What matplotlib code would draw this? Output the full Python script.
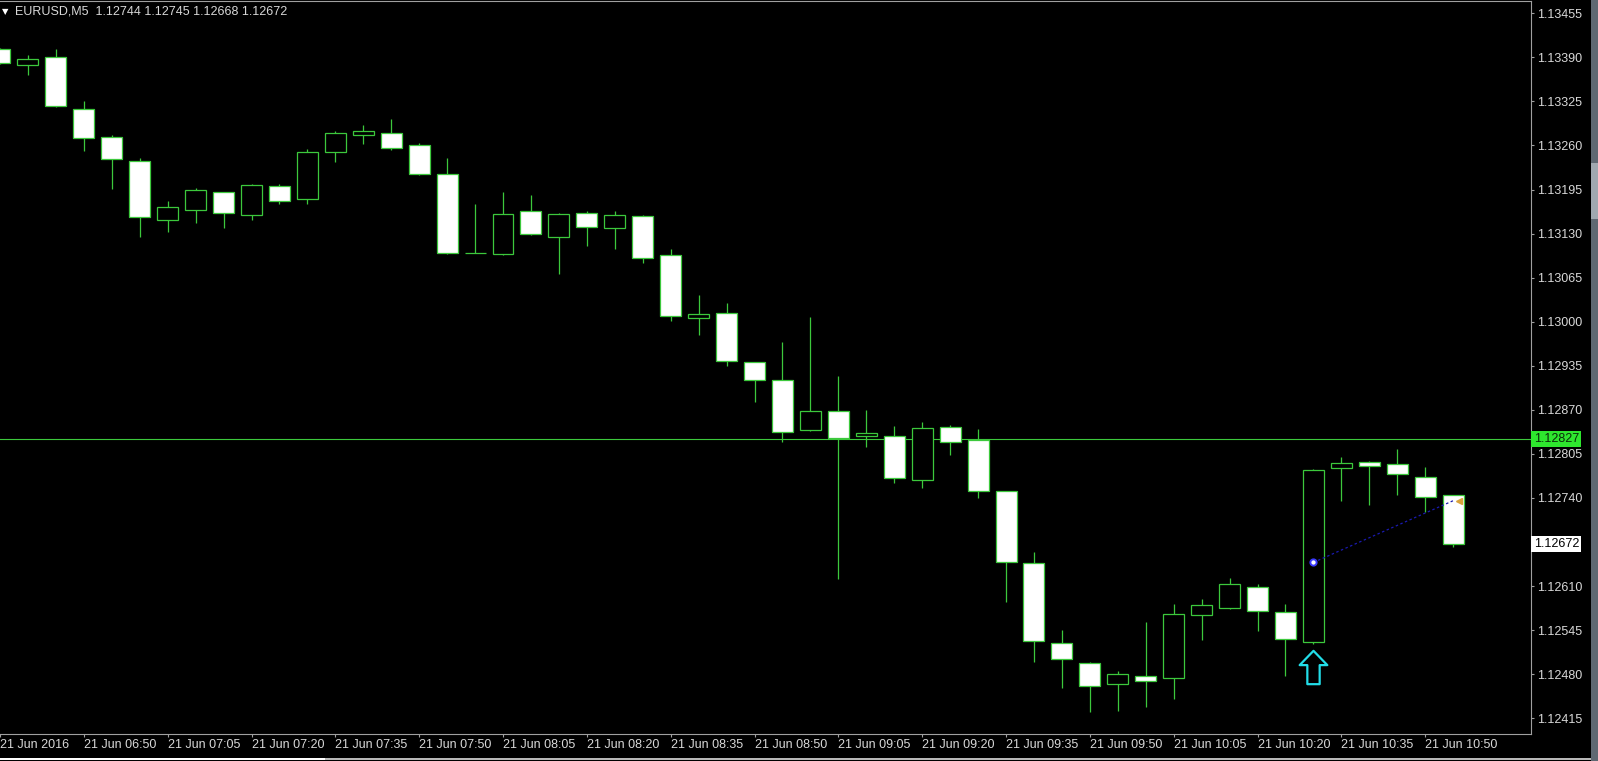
import matplotlib
matplotlib.use("Agg")
import matplotlib.pyplot as plt
import pandas as pd
from matplotlib.path import Path
from matplotlib.patches import Rectangle

# EURUSD M5 candles, 21 Jun 2016, first one starts 06:35
opens = [1.13402, 1.13378, 1.13390, 1.13314, 1.13273, 1.13237, 1.13150, 1.13165, 1.13191, 1.13157,
         1.13200, 1.13181, 1.13251, 1.13276, 1.13279, 1.13261, 1.13218, 1.13102, 1.13100, 1.13163,
         1.13125, 1.13161, 1.13139, 1.13156, 1.13098, 1.13006, 1.13013, 1.12940, 1.12914, 1.12840,
         1.12869, 1.12832, 1.12832, 1.12767, 1.12844, 1.12825, 1.12750, 1.12644, 1.12526, 1.12497,
         1.12465, 1.12478, 1.12474, 1.12568, 1.12578, 1.12609, 1.12572, 1.12527, 1.12784, 1.12793,
         1.12790, 1.12771, 1.12744]
highs = [1.13404, 1.13393, 1.13403, 1.13326, 1.13275, 1.13241, 1.13178, 1.13197, 1.13192, 1.13203,
         1.13203, 1.13255, 1.13281, 1.13290, 1.13299, 1.13263, 1.13242, 1.13174, 1.13191, 1.13187,
         1.13160, 1.13163, 1.13163, 1.13157, 1.13107, 1.13039, 1.13028, 1.12941, 1.12970, 1.13007,
         1.12920, 1.12870, 1.12846, 1.12852, 1.12847, 1.12842, 1.12751, 1.12660, 1.12546, 1.12498,
         1.12485, 1.12557, 1.12584, 1.12591, 1.12622, 1.12613, 1.12584, 1.12783, 1.12800, 1.12794,
         1.12813, 1.12786, 1.12745]
lows = [1.13380, 1.13364, 1.13317, 1.13252, 1.13196, 1.13125, 1.13133, 1.13146, 1.13139, 1.13150,
        1.13174, 1.13174, 1.13236, 1.13262, 1.13254, 1.13217, 1.13100, 1.13101, 1.13099, 1.13128,
        1.13070, 1.13112, 1.13108, 1.13086, 1.13001, 1.12980, 1.12935, 1.12882, 1.12823, 1.12839,
        1.12621, 1.12815, 1.12762, 1.12755, 1.12803, 1.12740, 1.12586, 1.12498, 1.12460, 1.12425,
        1.12426, 1.12432, 1.12443, 1.12531, 1.12576, 1.12544, 1.12478, 1.12525, 1.12735, 1.12730,
        1.12744, 1.12719, 1.12668]
closes = [1.13381, 1.13387, 1.13318, 1.13271, 1.13240, 1.13154, 1.13169, 1.13194, 1.13160, 1.13202,
          1.13178, 1.13250, 1.13279, 1.13281, 1.13257, 1.13218, 1.13102, 1.13102, 1.13159, 1.13129,
          1.13159, 1.13140, 1.13157, 1.13094, 1.13009, 1.13011, 1.12942, 1.12914, 1.12837, 1.12869,
          1.12828, 1.12836, 1.12770, 1.12843, 1.12822, 1.12750, 1.12646, 1.12529, 1.12502, 1.12463,
          1.12481, 1.12470, 1.12569, 1.12582, 1.12613, 1.12574, 1.12532, 1.12782, 1.12792, 1.12787,
          1.12775, 1.12741, 1.12672]

start_time = "2016-06-21 06:35"
tick_times = ["06:35", "06:50", "07:05", "07:20", "07:35", "07:50", "08:05", "08:20", "08:35",
              "08:50", "09:05", "09:20", "09:35", "09:50", "10:05", "10:20", "10:35", "10:50"]
tick_labels = ["21 Jun 2016", "21 Jun 06:50", "21 Jun 07:05", "21 Jun 07:20", "21 Jun 07:35",
               "21 Jun 07:50", "21 Jun 08:05", "21 Jun 08:20", "21 Jun 08:35", "21 Jun 08:50",
               "21 Jun 09:05", "21 Jun 09:20", "21 Jun 09:35", "21 Jun 09:50", "21 Jun 10:05",
               "21 Jun 10:20", "21 Jun 10:35", "21 Jun 10:50"]
price_ticks = [1.12415, 1.12480, 1.12545, 1.12610, 1.12740, 1.12805, 1.12870, 1.12935,
               1.13000, 1.13065, 1.13130, 1.13195, 1.13260, 1.13325, 1.13390, 1.13455]

level_price = 1.12827      # horizontal line
last_price = 1.12672       # current bid
arrow_time = "10:30"
arrow_price = 1.12490
trade_times = ["10:30", "10:55"]
trade_prices = [1.12645, 1.12736]
title = "EURUSD,M5  1.12744 1.12745 1.12668 1.12672"

GREEN = "#3cc83c"
AXIS = "#a0a0a0"
TXT = "#d8d8d8"
W, H = 1598, 761

plt.rcParams["font.family"] = ["Liberation Sans", "DejaVu Sans"]
plt.rcParams["font.size"] = 9

fig = plt.figure(figsize=(W / 100, H / 100), dpi=100, facecolor="black")
ax = fig.add_axes([0, 1 - 734.3 / H, 1531 / W, (734.3 - 1) / H])
ax.set_facecolor("black")

times = pd.date_range(start_time, periods=len(opens), freq="5min")
idx = list(range(len(opens)))
xs = [i - 1 for i in idx]  # first candle is partly off the left edge


def pos(t):
    return times.get_loc(pd.Timestamp("2016-06-21 " + t)) - 1


# wicks, then bodies over them
ax.vlines(xs, lows, highs, color=GREEN, lw=0.9, zorder=2)
bottoms = [min(o, c) for o, c in zip(opens, closes)]
heights = [abs(c - o) for o, c in zip(opens, closes)]
faces = ["white" if c < o else "black" for o, c in zip(opens, closes)]
ax.bar(xs, heights, bottom=bottoms, width=0.75, color=faces, edgecolor=GREEN,
       linewidth=0.9, zorder=3)

ax.axhline(level_price, color=GREEN, lw=0.8, zorder=1)

# trade line
tx = [pos(t) for t in trade_times]
ax.plot(tx, trade_prices, color="#1a1ab0", lw=0.9, ls=(0, (2, 2)), zorder=4)
ax.plot(tx[0], trade_prices[0], "o", ms=4.5, mfc="white", mec="#3a3aff", mew=1.4, zorder=5)
ax.plot(tx[1] + 0.2, trade_prices[1], "<", ms=4, color="#d9a23a", zorder=5)

# up arrow
arrow = Path([(0, 1), (0.83, 0.143), (0.37, 0.143), (0.37, -1), (-0.37, -1),
              (-0.37, 0.143), (-0.83, 0.143), (0, 1)], closed=True)
ax.plot(pos(arrow_time), arrow_price, marker=arrow, ms=24, mfc="black", mec="#22dde8",
        mew=1.6, zorder=6)

ax.set_xlim(-25 / 28, (1531 - 25) / 28)
ax.set_ylim(1.13455 - (734.3 - 13.3) / 67790, 1.13455 + (13.3 - 1) / 67790)

ax.set_xticks([pos(t) for t in tick_times])
ax.set_xticklabels(tick_labels, ha="left")
ax.yaxis.tick_right()
ax.set_yticks(price_ticks)
ax.set_yticklabels([f"{p:.5f}" for p in price_ticks])
ax.tick_params(axis="both", colors=AXIS, labelcolor=TXT, length=2.2, width=0.8, labelsize=9)
ax.tick_params(axis="x", pad=1.5)
ax.tick_params(axis="y", pad=2.0)
for s in ["bottom", "right", "top"]:
    ax.spines[s].set_color(AXIS)
    ax.spines[s].set_linewidth(0.8)
ax.spines["left"].set_visible(False)

# price labels on the right scale
ax.text(1.0017, level_price, f"{level_price:.5f}", transform=ax.get_yaxis_transform(),
        ha="left", va="center", fontsize=9, color="#0a2a0a", zorder=10, clip_on=False,
        bbox=dict(boxstyle="square,pad=0.18", fc="#2ee62e", ec="none"))
ax.text(1.0017, last_price, f"{last_price:.5f}", transform=ax.get_yaxis_transform(),
        ha="left", va="center", fontsize=9, color="black", zorder=10, clip_on=False,
        bbox=dict(boxstyle="square,pad=0.18", fc="white", ec="none"))

# title
fig.text(2 / W, 1 - 12 / H, "\u25bc", fontsize=6, color="white", va="center",
         family="DejaVu Sans")
fig.text(15 / W, 1 - 12 / H, title, fontsize=9, color=TXT, va="center")

# window chrome on the right and bottom
fig.add_artist(Rectangle((1591 / W, 0), 7 / W, 1, transform=fig.transFigure,
                         fc="#5f6872", ec="none"))
fig.add_artist(Rectangle((1591 / W, 1 - 219 / H), 7 / W, 56 / H, transform=fig.transFigure,
                         fc="#a0a8b0", ec="none"))
fig.add_artist(Rectangle((0, 1 - 760 / H), 1591 / W, 2 / H, transform=fig.transFigure,
                         fc="#b8b8b8", ec="none"))
fig.add_artist(Rectangle((0, 1 - 760 / H), 325 / W, 2 / H, transform=fig.transFigure,
                         fc="white", ec="none"))

fig.savefig("out.png", dpi=100, facecolor="black")
